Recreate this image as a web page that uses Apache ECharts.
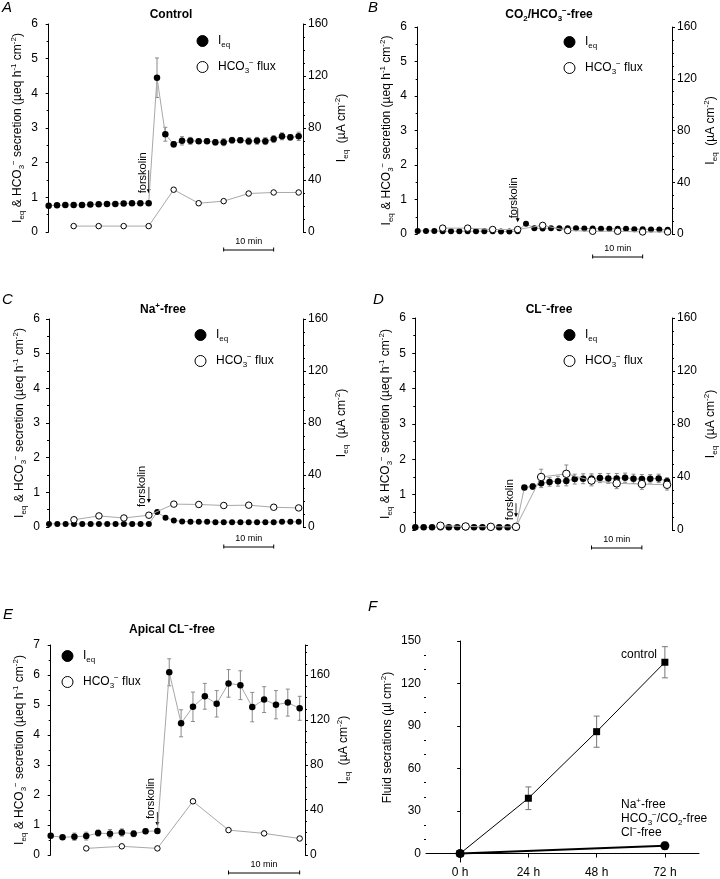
<!DOCTYPE html>
<html><head><meta charset="utf-8">
<script src="https://cdn.jsdelivr.net/npm/echarts@6/dist/echarts.min.js"></script>
<style>html,body{margin:0;padding:0;background:#fff}#c{width:720px;height:879px}</style>
</head><body><div id="c"></div><script>
// ---------------- DATA ----------------
// Panel A: Control (Ieq at every sample index, HCO3- flux at every 3rd)
const ieqA = [0.76,0.77,0.78,0.78,0.78,0.79,0.80,0.81,0.81,0.82,0.83,0.83,0.83,
  4.45,2.82,2.53,2.63,2.63,2.62,2.62,2.59,2.59,2.65,2.65,2.62,2.63,2.62,2.68,2.76,2.73,2.76];
const ieqErrA = [0.03,0.03,0.03,0.03,0.03,0.03,0.03,0.03,0.03,0.03,0.03,0.03,0.03,
  0.57,0.20,0.08,0.12,0.10,0.06,0.06,0.08,0.10,0.08,0.06,0.10,0.10,0.10,0.10,0.10,0.08,0.12];
const hcoIdxA = [3,6,9,12,15,18,21,24,27,30];
const hcoA = [0.17,0.17,0.17,0.17,1.22,0.83,0.89,1.11,1.14,1.14];
const hcoErrA = [0.02,0.02,0.02,0.02,0.03,0.03,0.03,0.03,0.03,0.03];

// Panel B: CO2/HCO3- free
const ieqB = [0.09,0.09,0.09,0.08,0.08,0.08,0.08,0.08,0.08,0.08,0.07,0.07,0.08,
  0.30,0.17,0.16,0.17,0.17,0.17,0.17,0.16,0.16,0.15,0.15,0.15,0.15,0.14,0.14,0.13,0.13,0.12];
const ieqErrB = ieqB.map(() => 0.02);
const hcoIdxB = [3,6,9,12,15,18,21,24,27,30];
const hcoB = [0.17,0.17,0.13,0.13,0.25,0.10,0.08,0.08,0.06,0.06];
const hcoErrB = [0.02,0.02,0.02,0.02,0.03,0.02,0.02,0.02,0.02,0.02];

// Panel C: Na+ free
const ieqC = [0.09,0.09,0.09,0.09,0.09,0.09,0.09,0.09,0.09,0.09,0.09,0.09,0.09,
  0.43,0.27,0.19,0.16,0.15,0.15,0.15,0.14,0.14,0.14,0.14,0.14,0.14,0.14,0.14,0.15,0.15,0.15];
const ieqErrC = ieqC.map(() => 0.02);
const hcoIdxC = [3,6,9,12,15,18,21,24,27,30];
const hcoC = [0.21,0.32,0.26,0.34,0.66,0.65,0.62,0.63,0.57,0.55];
const hcoErrC = [0.06,0.04,0.04,0.04,0.05,0.04,0.04,0.06,0.06,0.04];

// Panel D: Cl- free
const ieqD = [0.08,0.08,0.08,0.08,0.08,0.08,0.08,0.08,0.08,0.08,0.08,0.08,0.08,
  1.20,1.23,1.32,1.36,1.38,1.39,1.44,1.45,1.45,1.47,1.46,1.46,1.48,1.45,1.44,1.45,1.46,1.38];
const ieqErrD = [0.02,0.02,0.02,0.02,0.02,0.02,0.02,0.02,0.02,0.02,0.02,0.02,0.02,
  0.06,0.08,0.12,0.12,0.14,0.14,0.14,0.14,0.14,0.13,0.14,0.14,0.13,0.13,0.13,0.12,0.12,0.10];
const hcoIdxD = [3,6,9,12,15,18,21,24,27,30];
const hcoD = [0.12,0.10,0.09,0.09,1.50,1.59,1.40,1.32,1.30,1.28];
const hcoErrD = [0.03,0.03,0.03,0.03,0.22,0.25,0.15,0.15,0.15,0.15];

// Panel E: Apical Cl- free
const ieqE = [0.64,0.59,0.61,0.63,0.73,0.71,0.75,0.71,0.79,0.80,
  6.09,4.39,4.94,5.29,5.04,5.72,5.66,4.93,5.18,5.01,5.08,4.89];
const ieqErrE = [0.05,0.05,0.12,0.13,0.10,0.14,0.12,0.10,0.08,0.08,
  0.45,0.45,0.49,0.43,0.44,0.46,0.48,0.49,0.43,0.47,0.45,0.40];
const hcoIdxE = [3,6,9,12,15,18,21];
const hcoE = [0.22,0.29,0.22,1.79,0.83,0.72,0.55];
const hcoErrE = [0.03,0.03,0.03,0.04,0.03,0.03,0.03];

// Panel F: fluid secretion
const fHours = [0,24,48,72];
const fControl = [0,39,86,135];
const fControlErr = [0,8,11,11];
const fFreeHours = [0,72];
const fFree = [0,5.5];
const fFreeErr = [0,2.5];
const fTickHours = [0,24,48,72];
const fTickVals = [0,30,60,90,120,150];
const fMinorVals = [10,20,40,50,70,80,100,110,130,140];

// ---------------- LAYOUT ----------------
const FF = '"Liberation Sans", Arial, Helvetica, sans-serif';
function mkRich(fs) {
  return {
    n:{fontFamily:FF,fontSize:fs,color:'#000',lineHeight:fs+4},
    s:{fontFamily:FF,fontSize:Math.round(fs*0.68),color:'#000',verticalAlign:'bottom',lineHeight:Math.round(fs*0.75)},
    u:{fontFamily:FF,fontSize:Math.round(fs*0.68),color:'#000',verticalAlign:'top',lineHeight:Math.round(fs*0.75)},
    b:{fontFamily:FF,fontSize:fs,fontWeight:'bold',color:'#000',lineHeight:fs+4},
    bs:{fontFamily:FF,fontSize:Math.round(fs*0.68),fontWeight:'bold',color:'#000',verticalAlign:'bottom',lineHeight:Math.round(fs*0.75)},
    bu:{fontFamily:FF,fontSize:Math.round(fs*0.68),fontWeight:'bold',color:'#000',verticalAlign:'top',lineHeight:Math.round(fs*0.75)}
  };
}
const rich12 = mkRich(12);

const panels = [
  {key:'A', grid:{left:43,top:24,width:260,height:208}, xr:[-0.68,30.52], yMax:6, rMax:160,
   ieq:ieqA, ieqErr:ieqErrA, hIdx:hcoIdxA, hco:hcoA, hErr:hcoErrA, leg:[202,43], fsk:{idx:12,tip:-10,len:23,tx:-6,ty:-10}, bar:{a:21,b:27,dy:18},
   title:'{b|Control}', tpos:[171,15], letter:'A', lpos:[2,8], fs:6.5, hs:5.5},
  {key:'B', grid:{left:412,top:27,width:260,height:207}, xr:[-0.68,30.52], yMax:6, rMax:160,
   ieq:ieqB, ieqErr:ieqErrB, hIdx:hcoIdxB, hco:hcoB, hErr:hcoErrB, leg:[569,44], fsk:{idx:12,tip:-9,len:14,tx:-4,ty:-13}, bar:{a:21,b:27,dy:23},
   title:'{b|CO}{bs|2}{b|/HCO}{bs|3}{bu|−}{b|-free}', tpos:[549,15], letter:'B', lpos:[368,8], fs:6, hs:6.5},
  {key:'C', grid:{left:45,top:319,width:258,height:208}, xr:[-0.48,30.52], yMax:6, rMax:160,
   ieq:ieqC, ieqErr:ieqErrC, hIdx:hcoIdxC, hco:hcoC, hErr:hcoErrC, leg:[200,337], fsk:{idx:12,tip:-21,len:16,tx:-7,ty:-17}, bar:{a:21,b:27,dy:20},
   title:'{b|Na}{bu|+}{b|-free}', tpos:[163,310], letter:'C', lpos:[2,300], fs:6, hs:6.5},
  {key:'D', grid:{left:411,top:318,width:264,height:212}, xr:[-0.51,30.59], yMax:6, rMax:160,
   ieq:ieqD, ieqErr:ieqErrD, hIdx:hcoIdxD, hco:hcoD, hErr:hcoErrD, leg:[569,337], fsk:{idx:12,tip:-10,len:14,tx:-6,ty:-7}, bar:{a:21,b:27,dy:18},
   title:'{b|CL}{bu|−}{b|-free}', tpos:[549,310], letter:'D', lpos:[373,300], fs:6.5, hs:7.5},
  {key:'E', grid:{left:45,top:645,width:260,height:210}, xr:[-0.48,21.45], yMax:7, rMax:7*160/6,
   ieq:ieqE, ieqErr:ieqErrE, hIdx:hcoIdxE, hco:hcoE, hErr:hcoErrE, leg:[67,658], fsk:{idx:9,tip:-5,len:14,tx:-6,ty:-12}, bar:{a:15,b:21,dy:18},
   title:'{b|Apical CL}{bu|−}{b|-free}', tpos:[172,630], letter:'E', lpos:[3,615], fs:6.5, hs:5.5}
];
const gridF = {left:426,top:641,width:273,height:222};

const leftName = '{n|I}{s|eq}{n| & HCO}{s|3}{u|−}{n| secretion (µeq h}{u|-1}{n| cm}{u|-2}{n|)}';
const rightName = '{n|I}{s|eq}{n|  (µA cm}{u|-2}{n|)}';

function errRender(color, cap) {
  return function(params, api) {
    const x = api.value(0), lo = api.value(1), hi = api.value(2);
    const p1 = api.coord([x, hi]), p2 = api.coord([x, lo]);
    const st = {stroke:color, lineWidth:1};
    return {type:'group', children:[
      {type:'line', shape:{x1:p1[0],y1:p1[1],x2:p2[0],y2:p2[1]}, style:st},
      {type:'line', shape:{x1:p1[0]-cap,y1:p1[1],x2:p1[0]+cap,y2:p1[1]}, style:st},
      {type:'line', shape:{x1:p2[0]-cap,y1:p2[1],x2:p2[0]+cap,y2:p2[1]}, style:st}
    ]};
  };
}

const axisLineSt = {show:true, lineStyle:{color:'#000', width:1}};
const grids = [], xAxes = [], yAxes = [], series = [], legends = [];

panels.forEach((p, k) => {
  grids.push(Object.assign({containLabel:false}, p.grid));
  xAxes.push({type:'value', gridIndex:k, min:p.xr[0], max:p.xr[1], show:false});
  yAxes.push({type:'value', gridIndex:k, position:'left', min:0, max:p.yMax, interval:1,
    axisLine:axisLineSt, axisTick:{show:true, length:3, lineStyle:{color:'#000'}},
    minorTick:{show:true, splitNumber:2, length:2, lineStyle:{color:'#000'}},
    splitLine:{show:false},
    axisLabel:{fontFamily:FF, fontSize:12, color:'#000', margin:5},
    name:leftName, nameLocation:'middle', nameRotate:90, nameGap:17,
    nameTextStyle:{rich:rich12}});
  yAxes.push({type:'value', gridIndex:k, position:'right', min:0, max:p.rMax, interval:40,
    axisLine:axisLineSt, axisTick:{show:true, length:3, lineStyle:{color:'#000'}},
    minorTick:{show:true, splitNumber:4, length:2, lineStyle:{color:'#000'}},
    splitLine:{show:false},
    axisLabel:{fontFamily:FF, fontSize:12, color:'#000', margin:5, showMaxLabel: p.rMax === 160,
      formatter: v => (Math.abs(v % 40) < 1e-6 ? String(v) : '')},
    name:rightName, nameLocation:'middle', nameRotate:90, nameGap:31,
    nameTextStyle:{rich:rich12}});
  const yi = 2*k;
  series.push({type:'custom', name:p.key+'|ieqErr', xAxisIndex:k, yAxisIndex:yi, z:2,
    renderItem:errRender('#8a8a8a', 2), encode:{x:0, y:[1,2]},
    data:p.ieq.map((v,i) => [i, v-p.ieqErr[i], v+p.ieqErr[i]])});
  series.push({type:'custom', name:p.key+'|hcoErr', xAxisIndex:k, yAxisIndex:yi, z:2,
    renderItem:errRender('#8a8a8a', 2), encode:{x:0, y:[1,2]},
    data:p.hIdx.map((x,j) => [x, p.hco[j]-p.hErr[j], p.hco[j]+p.hErr[j]])});
  series.push({type:'line', name:p.key+'|ieq', xAxisIndex:k, yAxisIndex:yi, z:3,
    data:p.ieq.map((v,i) => [i, v]), symbol:'circle', symbolSize:p.fs, showSymbol:true,
    itemStyle:{color:'#000', borderColor:'#000', borderWidth:0},
    lineStyle:{color:'#a8a8a8', width:1}});
  series.push({type:'line', name:p.key+'|hco', xAxisIndex:k, yAxisIndex:yi, z:4,
    data:p.hIdx.map((x,j) => [x, p.hco[j]]), symbol:'circle', symbolSize:p.hs, showSymbol:true,
    itemStyle:{color:'#fff', borderColor:'#000', borderWidth:1},
    lineStyle:{color:'#a8a8a8', width:1}});
  legends.push({left:p.leg[0]-5.5, top:p.leg[1]-8, orient:'vertical', padding:0,
    itemWidth:11, itemHeight:11, itemGap:10, icon:'circle', selectedMode:false,
    itemStyle:{borderWidth:1},
    data:[p.key+'|ieq', p.key+'|hco'],
    formatter: n => n.endsWith('ieq') ? '{n|I}{s|eq}' : '{n|HCO}{s|3}{u|−}{n| flux}',
    textStyle:{rich:rich12, padding:[0,0,0,5]}});
});

// Panel F
const kF = panels.length;
grids.push(Object.assign({containLabel:false}, gridF));
xAxes.push({type:'value', gridIndex:kF, min:-12, max:84,
  axisLine:axisLineSt, splitLine:{show:false},
  axisTick:{show:true, length:4, lineStyle:{color:'#000'}, customValues:fTickHours},
  axisLabel:{fontFamily:FF, fontSize:12, color:'#000', margin:5, customValues:fTickHours, formatter: v => v + ' h'}});
const yF = yAxes.length;
yAxes.push({type:'value', gridIndex:kF, min:-6, max:150,
  axisLine:axisLineSt, splitLine:{show:false},
  axisTick:{show:true, length:3, lineStyle:{color:'#000'}, customValues:fTickVals},
  axisLabel:{fontFamily:FF, fontSize:12, color:'#000', margin:5, customValues:fTickVals},
  name:'{n|Fluid secrations (µl cm}{u|-2}{n|)}', nameLocation:'middle', nameRotate:90, nameGap:30,
  nameTextStyle:{rich:rich12, padding:[0,0,0,28]}});
yAxes.push({type:'value', gridIndex:kF, min:-6, max:150, position:'left',
  axisLine:{show:false}, splitLine:{show:false}, axisLabel:{show:false},
  axisTick:{show:true, length:2, lineStyle:{color:'#000'}, customValues:fMinorVals}});
series.push({type:'custom', name:'F|ctrlErr', xAxisIndex:kF, yAxisIndex:yF, z:2,
  renderItem:errRender('#777', 3), encode:{x:0, y:[1,2]},
  data:fHours.map((h,i) => [h, fControl[i]-fControlErr[i], fControl[i]+fControlErr[i]])});
series.push({type:'custom', name:'F|freeErr', xAxisIndex:kF, yAxisIndex:yF, z:2,
  renderItem:errRender('#777', 3), encode:{x:0, y:[1,2]},
  data:fFreeHours.map((h,i) => [h, fFree[i]-fFreeErr[i], fFree[i]+fFreeErr[i]])});
series.push({type:'line', name:'F|ctrl', xAxisIndex:kF, yAxisIndex:yF, z:3,
  data:fHours.map((h,i) => [h, fControl[i]]), symbol:'rect', symbolSize:7,
  itemStyle:{color:'#000'}, lineStyle:{color:'#000', width:1}});
series.push({type:'line', name:'F|free', xAxisIndex:kF, yAxisIndex:yF, z:4,
  data:fFreeHours.map((h,i) => [h, fFree[i]]), symbol:'circle', symbolSize:9,
  itemStyle:{color:'#000'}, lineStyle:{color:'#000', width:2}});

const chart = echarts.init(document.getElementById('c'), null, {renderer:'canvas'});
chart.setOption({animation:false, backgroundColor:'#fff', grid:grids, xAxis:xAxes, yAxis:yAxes, series, legend:legends});

// ---------------- ANNOTATIONS ----------------
const g = [];
panels.forEach((p, k) => {
  const conv = v => chart.convertToPixel({xAxisIndex:k, yAxisIndex:2*k}, v);
  g.push({type:'text', x:p.tpos[0], y:p.tpos[1], style:{text:p.title, rich:rich12, align:'center', verticalAlign:'middle'}});
  g.push({type:'text', x:p.lpos[0], y:p.lpos[1], style:{text:p.letter, font:'italic 15px ' + FF, fill:'#000', verticalAlign:'middle'}});
  const pt = conv([p.fsk.idx, p.ieq[p.fsk.idx]]);
  const tipY = pt[1] + p.fsk.tip, ax = pt[0];
  g.push({type:'line', shape:{x1:ax, y1:tipY-p.fsk.len, x2:ax, y2:tipY-3}, style:{stroke:'#000', lineWidth:0.8}});
  g.push({type:'polygon', shape:{points:[[ax-2,tipY-4],[ax+2,tipY-4],[ax,tipY]]}, style:{fill:'#000'}});
  g.push({type:'text', x:ax + p.fsk.tx, y:pt[1] + p.fsk.ty, rotation:Math.PI/2,
    style:{text:'forskolin', font:'11px ' + FF, fill:'#000', align:'left', verticalAlign:'middle'}});
  const ya = p.grid.top + p.grid.height + p.bar.dy;
  const xa = conv([p.bar.a, 0])[0], xb = conv([p.bar.b, 0])[0];
  g.push({type:'line', shape:{x1:xa, y1:ya, x2:xb, y2:ya}, style:{stroke:'#000', lineWidth:1}});
  g.push({type:'line', shape:{x1:xa, y1:ya-2.5, x2:xa, y2:ya+1.5}, style:{stroke:'#000', lineWidth:1}});
  g.push({type:'line', shape:{x1:xb, y1:ya-2.5, x2:xb, y2:ya+1.5}, style:{stroke:'#000', lineWidth:1}});
  g.push({type:'text', x:(xa+xb)/2, y:ya-8, style:{text:'10 min', font:'9px ' + FF, fill:'#000', align:'center', verticalAlign:'middle'}});
});
g.push({type:'text', x:368, y:607, style:{text:'F', font:'italic 15px ' + FF, fill:'#000', verticalAlign:'middle'}});
g.push({type:'text', x:621, y:655, style:{text:'{n|control}', rich:rich12, align:'left', verticalAlign:'middle'}});
g.push({type:'text', x:621, y:805, style:{text:'{n|Na}{u|+}{n|-free}', rich:rich12, align:'left', verticalAlign:'middle'}});
g.push({type:'text', x:621, y:819, style:{text:'{n|HCO}{s|3}{u|−}{n|/CO}{s|2}{n|-free}', rich:rich12, align:'left', verticalAlign:'middle'}});
g.push({type:'text', x:621, y:833, style:{text:'{n|Cl}{u|−}{n|-free}', rich:rich12, align:'left', verticalAlign:'middle'}});
chart.setOption({graphic:g});
</script></body></html>
